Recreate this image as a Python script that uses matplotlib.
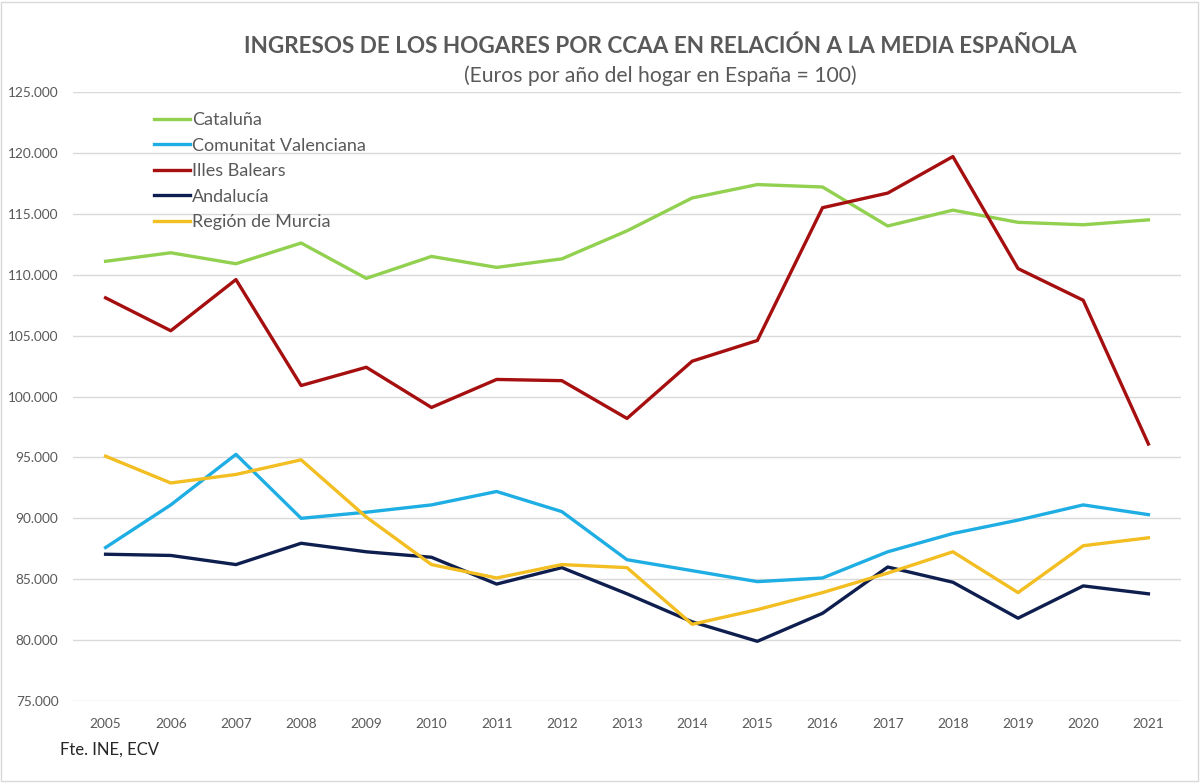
"""
    Ingresos de los hogares por CCAA en relación a la media española
"""
from matplotlib import pyplot as plt
from matplotlib.ticker import FuncFormatter
from matplotlib.patches import Rectangle

plt.rcParams['font.family'] = ['Lato', 'DejaVu Sans']

years = list(range(2005, 2022))

cataluna = [111.1, 111.8, 110.9, 112.6, 109.7, 111.5, 110.6, 111.3, 113.6, 116.3,
            117.4, 117.2, 114.0, 115.3, 114.3, 114.1, 114.5]
valenciana = [87.6, 91.1, 95.25, 90.0, 90.5, 91.1, 92.2, 90.55, 86.6, 85.7,
              84.8, 85.1, 87.25, 88.75, 89.85, 91.1, 90.3]
baleares = [108.1, 105.4, 109.6, 100.9, 102.4, 99.1, 101.4, 101.3, 98.2, 102.9,
            104.6, 115.5, 116.7, 119.7, 110.5, 107.9, 96.1]
andalucia = [87.05, 86.95, 86.2, 87.95, 87.25, 86.8, 84.6, 85.95, 83.8, 81.5,
             79.9, 82.2, 86.0, 84.75, 81.8, 84.45, 83.8]
murcia = [95.1, 92.9, 93.6, 94.8, 90.1, 86.2, 85.1, 86.2, 85.95, 81.3,
          82.5, 83.9, 85.5, 87.25, 83.9, 87.75, 88.4]

series = [
    ("Cataluña", cataluna, "#92D050"),
    ("Comunitat Valenciana", valenciana, "#1EAEE3"),
    ("Illes Balears", baleares, "#A50F0F"),
    ("Andalucía", andalucia, "#0E1E4E"),
    ("Región de Murcia", murcia, "#F2BE22"),
]

gray = "#595959"

fig = plt.figure(figsize=(12, 7.83), dpi=100)
ax = fig.add_axes([73 / 1200, 1 - 701 / 783, (1181 - 73) / 1200, (701 - 92) / 783])

for name, vals, col in series:
    ax.plot(years, vals, color=col, linewidth=2.4, label=name, solid_joinstyle="round")

ax.set_xlim(2004.5, 2021.5)
ax.set_ylim(75, 125)
ax.set_yticks(range(75, 126, 5))
ax.set_xticks(years)
ax.yaxis.set_major_formatter(FuncFormatter(lambda v, p: "{:.3f}".format(v)))
ax.grid(axis="y", color="#D9D9D9", linewidth=1)
ax.set_axisbelow(True)
for s in ax.spines.values():
    s.set_visible(False)
ax.tick_params(axis="both", length=0, labelsize=9.8, colors=gray)
ax.tick_params(axis="x", pad=12)
ax.tick_params(axis="y", pad=10.5)

# leyenda dentro del gráfico, arriba a la izquierda
ax.legend(loc="upper left", bbox_to_anchor=(154 / 1200, 1 - 112 / 783),
          bbox_transform=fig.transFigure, frameon=False, fontsize=13,
          handlelength=2.0, handletextpad=0.1, labelspacing=0.53,
          labelcolor=gray, borderaxespad=0, borderpad=0)

fig.text(660 / 1200, 1 - 46 / 783, "INGRESOS DE LOS HOGARES POR CCAA EN RELACIÓN A LA MEDIA ESPAÑOLA",
         ha="center", va="center", fontsize=16.2, fontweight="bold", color=gray)
fig.text(660 / 1200, 1 - 76 / 783, "(Euros por año del hogar en España = 100)",
         ha="center", va="center", fontsize=15.2, color=gray)
fig.text(60 / 1200, 1 - 750 / 783, "Fte. INE, ECV", ha="left", va="center",
         fontsize=12, color="#262626")

# borde del área del gráfico
fig.patches.append(Rectangle((0.001, 0.002), 0.997, 0.996, transform=fig.transFigure,
                             fill=False, edgecolor="#D9D9D9", linewidth=1))

fig.savefig("out.png", dpi=100, facecolor="white")
